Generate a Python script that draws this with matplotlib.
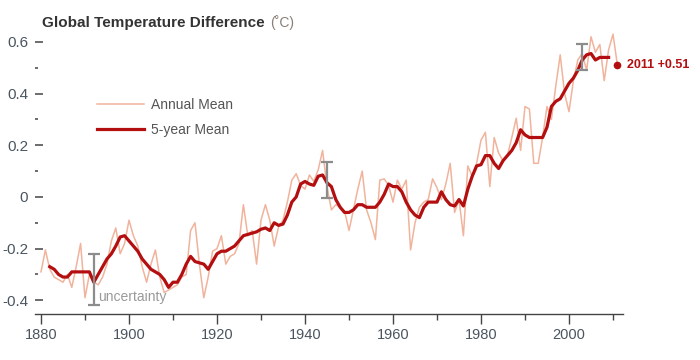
import matplotlib
matplotlib.use("Agg")
import matplotlib.pyplot as plt
from matplotlib.ticker import MultipleLocator

# Annual mean temperature difference (deg C), 1880-2011
annual_years = list(range(1880, 2012))
annual_mean = [
    -0.29, -0.205, -0.28, -0.31, -0.32, -0.33, -0.30, -0.35, -0.27, -0.18,
    -0.39, -0.30, -0.33, -0.34, -0.31, -0.26, -0.17, -0.12, -0.22, -0.18,
    -0.09, -0.15, -0.19, -0.27, -0.33, -0.26, -0.205, -0.31, -0.37, -0.36,
    -0.35, -0.34, -0.31, -0.30, -0.13, -0.10, -0.26, -0.39, -0.31, -0.21,
    -0.20, -0.15, -0.26, -0.23, -0.22, -0.18, -0.03, -0.15, -0.13, -0.26,
    -0.09, -0.03, -0.09, -0.19, -0.115, -0.09, -0.02, 0.065, 0.09, 0.045,
    0.03, 0.085, 0.06, 0.105, 0.18, 0.04, -0.05, -0.03, -0.04, -0.055,
    -0.13, -0.05, 0.03, 0.10, -0.05, -0.10, -0.165, 0.065, 0.07, 0.045,
    -0.02, 0.065, 0.03, 0.065, -0.205, -0.10, -0.04, -0.02, -0.01, 0.07,
    0.035, -0.01, 0.05, 0.13, -0.06, -0.01, -0.15, 0.12, 0.08, 0.13,
    0.22, 0.25, 0.04, 0.23, 0.17, 0.14, 0.16, 0.23, 0.305, 0.18,
    0.35, 0.34, 0.13, 0.13, 0.23, 0.35, 0.30, 0.43, 0.55, 0.40,
    0.33, 0.45, 0.53, 0.555, 0.49, 0.62, 0.56, 0.59, 0.45, 0.57,
    0.63, 0.51,
]

# 5-year running mean, 1882-2009
smooth_years = list(range(1882, 2010))
smooth_mean = [
    -0.27, -0.28, -0.30, -0.31, -0.31, -0.29, -0.29, -0.29, -0.29, -0.29,
    -0.33, -0.30, -0.27, -0.24, -0.22, -0.19, -0.155, -0.15, -0.17, -0.19,
    -0.21, -0.24, -0.26, -0.28, -0.29, -0.30, -0.32, -0.35, -0.33, -0.33,
    -0.30, -0.26, -0.23, -0.25, -0.255, -0.26, -0.28, -0.25, -0.22, -0.21,
    -0.21, -0.20, -0.19, -0.17, -0.15, -0.145, -0.14, -0.135, -0.125, -0.12,
    -0.13, -0.10, -0.11, -0.105, -0.07, -0.02, 0.00, 0.05, 0.06, 0.05,
    0.045, 0.08, 0.085, 0.055, 0.04, -0.01, -0.04, -0.06, -0.06, -0.05,
    -0.03, -0.03, -0.04, -0.04, -0.04, -0.02, 0.01, 0.05, 0.04, 0.04,
    0.02, -0.02, -0.05, -0.07, -0.08, -0.04, -0.02, -0.02, -0.02, 0.02,
    -0.01, -0.03, -0.035, -0.01, -0.035, 0.03, 0.08, 0.12, 0.125, 0.16,
    0.16, 0.13, 0.11, 0.14, 0.16, 0.18, 0.21, 0.26, 0.24, 0.23,
    0.23, 0.23, 0.23, 0.27, 0.35, 0.37, 0.38, 0.41, 0.44, 0.46,
    0.49, 0.53, 0.55, 0.555, 0.53, 0.54, 0.54, 0.54,
]

# uncertainty bars
unc_years = [1892, 1945, 2003]
unc_center = [-0.32, 0.065, 0.54]
unc_half = [0.10, 0.07, 0.05]

last_year = 2011
last_value = 0.51

y_ticks = [-0.4, -0.2, 0, 0.2, 0.4, 0.6]
y_labels = ["-0.4", "-0.2", "0", "0.2", "0.4", "0.6"]

FONT = "Liberation Sans"
ANNUAL_COLOR = "#f1b39c"
SMOOTH_COLOR = "#b30f10"
GRAY = "#8c8c8c"
TEXT = "#4b5560"

plt.rcParams["font.family"] = FONT

fig = plt.figure(figsize=(7, 3.6), dpi=100)
ax = fig.add_axes([35 / 700, 1 - 314 / 360, 588 / 700, 287.6 / 360])

ax.plot(annual_years, annual_mean, color=ANNUAL_COLOR, lw=1.1, zorder=2,
        label="Annual Mean")
ax.plot(smooth_years, smooth_mean, color=SMOOTH_COLOR, lw=2.3, zorder=3,
        label="5-year Mean")
ax.errorbar(unc_years, unc_center, yerr=unc_half, fmt="none", ecolor=GRAY,
            elinewidth=1.6, capsize=4, capthick=1.6, zorder=4)
ax.plot([last_year], [last_value], "o", color=SMOOTH_COLOR, ms=4.5, zorder=5,
        clip_on=False)
ax.annotate(f"{last_year} +{last_value:.2f}", xy=(last_year, last_value),
            xytext=(7, 0), textcoords="offset points", va="center", ha="left",
            color=SMOOTH_COLOR, fontsize=9, fontweight="bold",
            annotation_clip=False)
ax.annotate("uncertainty", xy=(unc_years[0], unc_center[0] - unc_half[0]),
            xytext=(3, 1), textcoords="offset points", va="bottom", ha="left",
            color="#9a9a9a", fontsize=10)

ax.set_xlim(1878.64, 2012.27)
ax.set_ylim(-0.453, 0.66)

for side in ("top", "right", "left"):
    ax.spines[side].set_visible(False)
ax.spines["bottom"].set_color("#444444")
ax.spines["bottom"].set_linewidth(1.0)

ax.xaxis.set_major_locator(MultipleLocator(20))
ax.xaxis.set_minor_locator(MultipleLocator(10))
ax.tick_params(axis="x", which="major", direction="out", length=7, width=1,
               color="#444444", pad=3, labelsize=10.5, labelcolor=TEXT)
ax.tick_params(axis="x", which="minor", direction="out", length=4, width=1,
               color="#444444")
ax.set_yticks(y_ticks)
ax.set_yticklabels(y_labels)
ax.yaxis.set_minor_locator(MultipleLocator(0.1))
ax.tick_params(axis="y", which="major", direction="in", length=6, width=1.1,
               color="#444444", pad=5, labelsize=11, labelcolor=TEXT)
ax.tick_params(axis="y", which="minor", direction="in", length=2.5, width=1.1,
               color="#444444")

leg = ax.legend(loc="upper left", bbox_to_anchor=(0.0935, 0.775), frameon=False,
                borderpad=0, handlelength=3.4, handletextpad=0.5,
                labelspacing=0.78, prop={"size": 10})
for t in leg.get_texts():
    t.set_color("#555555")

title = fig.text(42 / 700, 1 - 27 / 360, "Global Temperature Difference",
                 fontsize=11, fontweight="bold", color="#333333",
                 va="baseline", ha="left")
ax.annotate("(\u02daC)", xy=(1, 0), xycoords=title, xytext=(4, 0),
            textcoords="offset points", va="bottom", ha="left",
            fontsize=10, color="#8a7d74")

fig.savefig("out.png", dpi=100)
